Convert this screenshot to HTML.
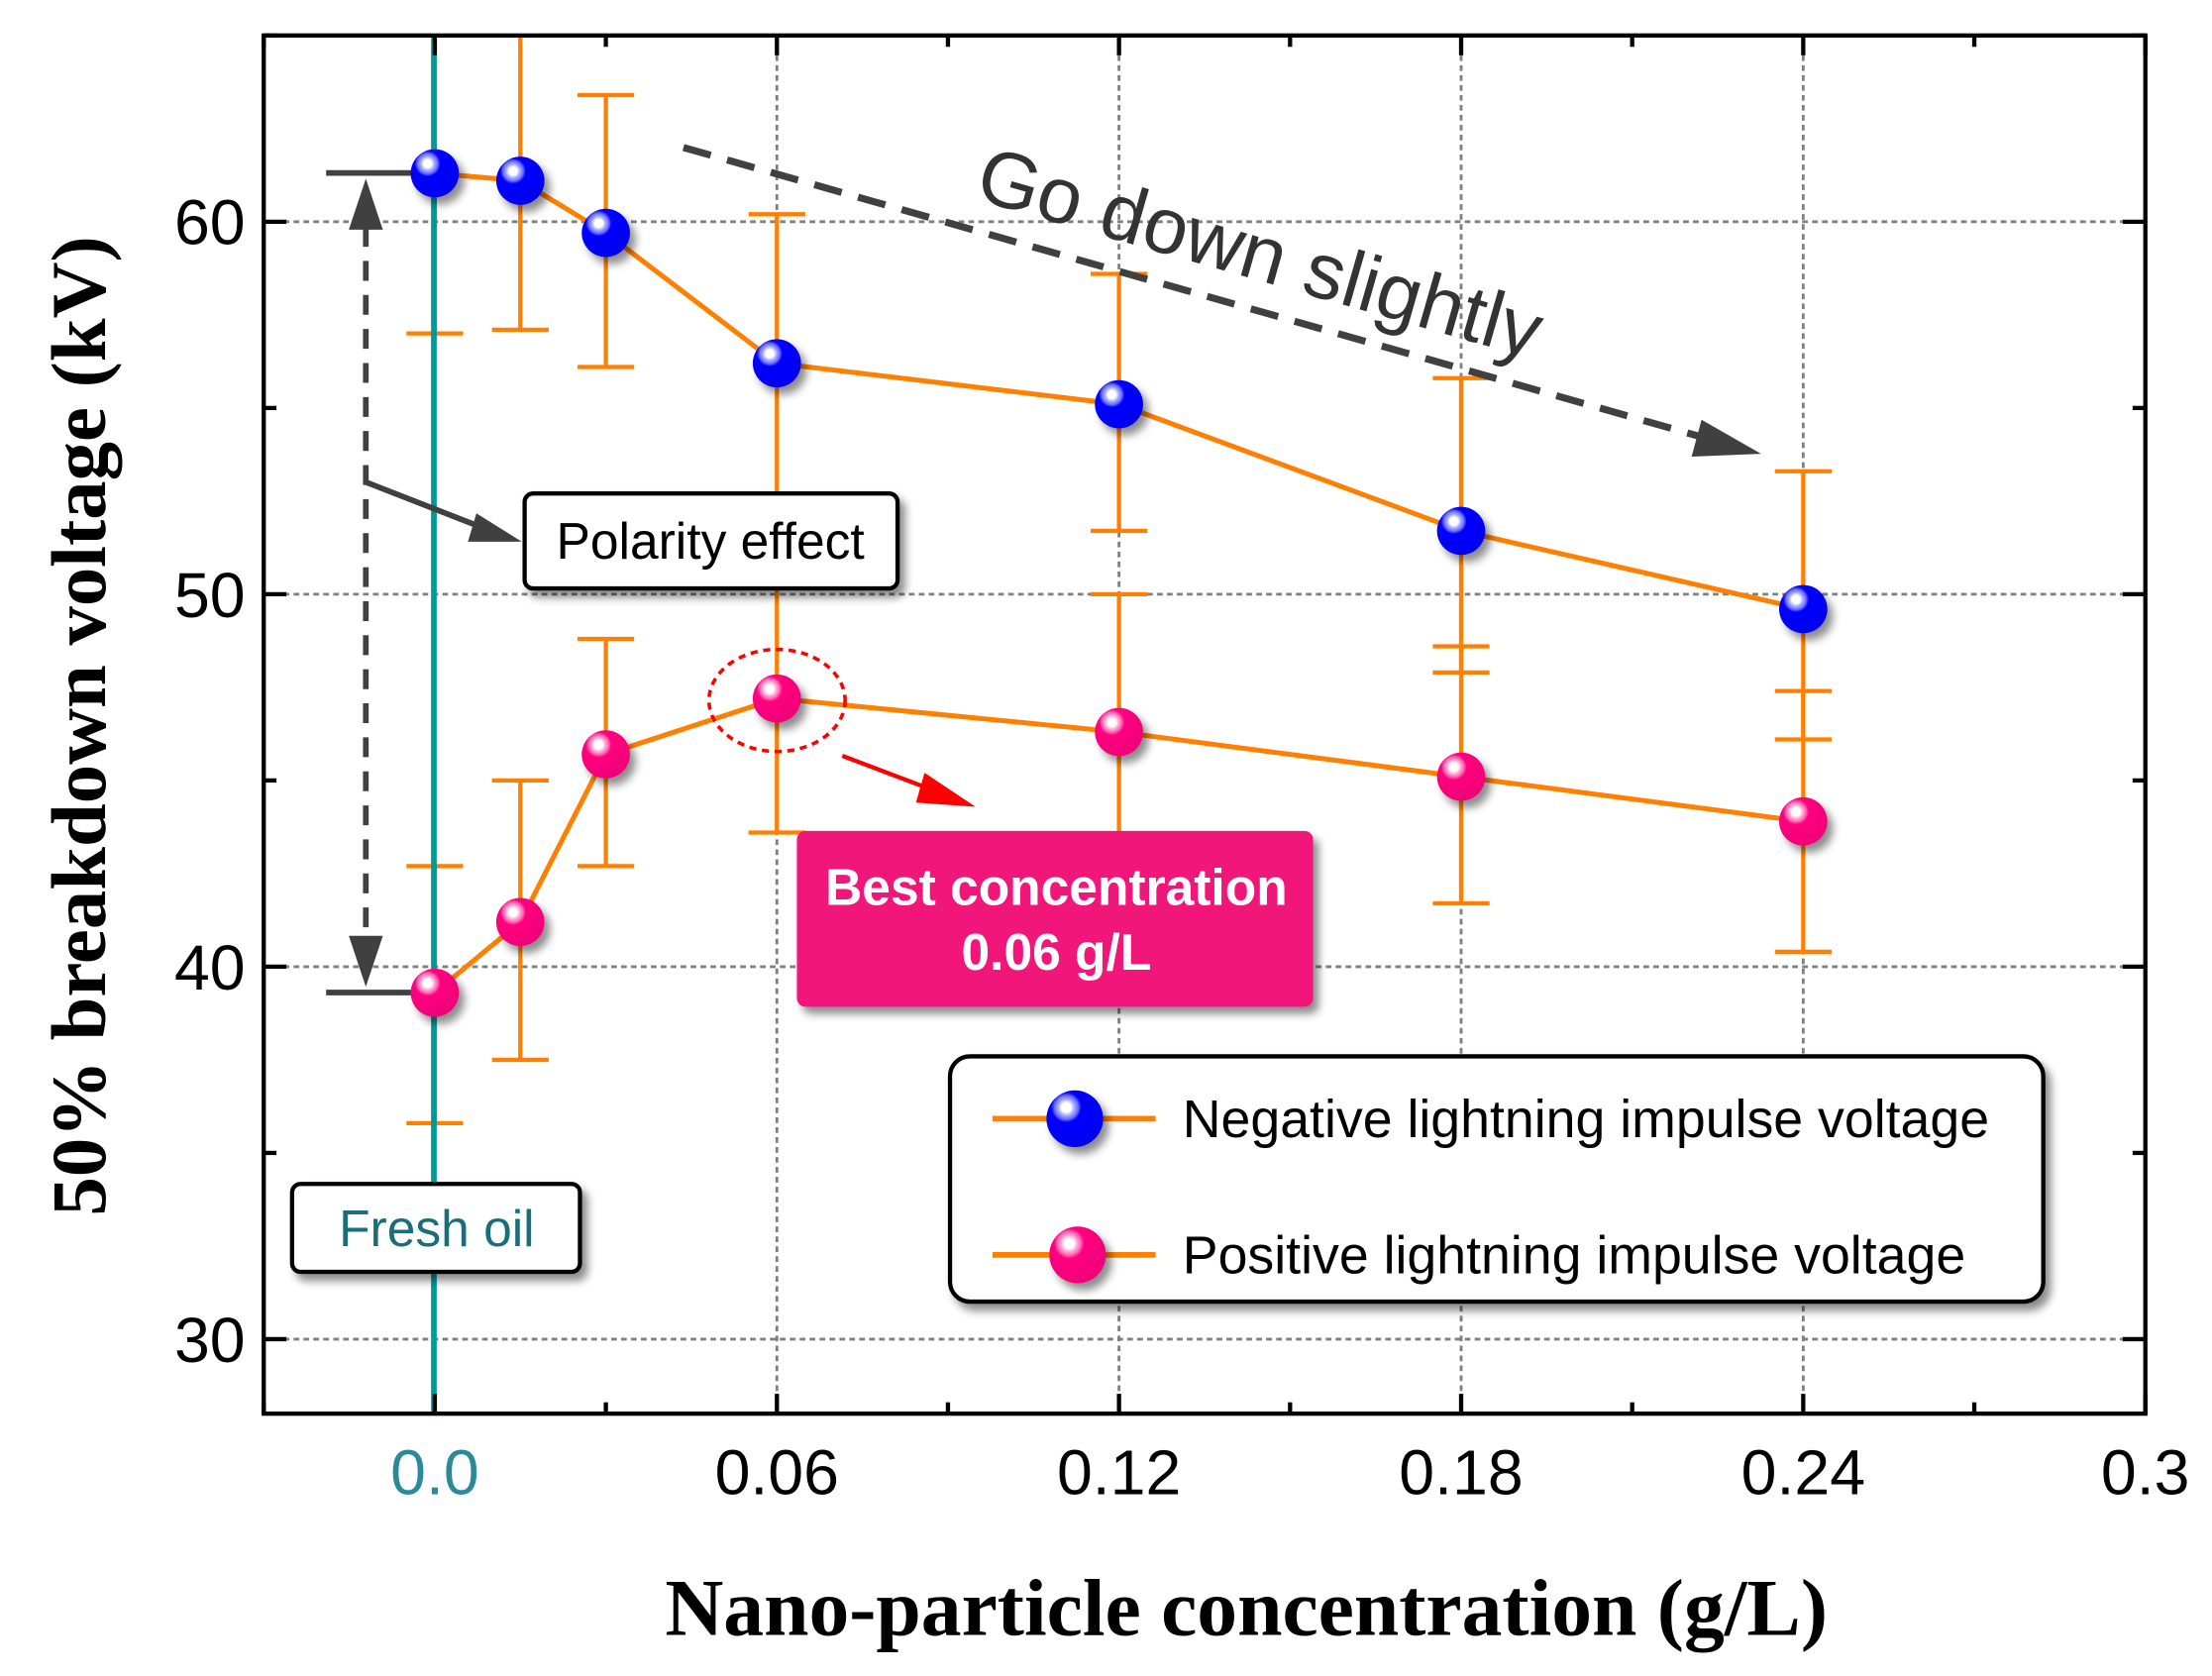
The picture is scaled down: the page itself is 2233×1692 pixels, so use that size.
<!DOCTYPE html>
<html><head><meta charset="utf-8"><style>html,body{margin:0;padding:0;background:#fff}svg{display:block}</style></head>
<body>
<svg id="chart" xmlns="http://www.w3.org/2000/svg" width="2233" height="1692" viewBox="0 0 1560 1182">
<defs>
<radialGradient id="gb" cx="0.35" cy="0.3" r="0.7"><stop offset="0" stop-color="#fff"/><stop offset="0.12" stop-color="#fff"/><stop offset="0.2" stop-color="#aab0ff"/><stop offset="0.3" stop-color="#6a6aff"/><stop offset="0.38" stop-color="#0000ff"/><stop offset="1" stop-color="#0000f0"/></radialGradient>
<radialGradient id="gp" cx="0.35" cy="0.3" r="0.7"><stop offset="0" stop-color="#fff"/><stop offset="0.12" stop-color="#fff"/><stop offset="0.2" stop-color="#ffb0d8"/><stop offset="0.3" stop-color="#ff60b0"/><stop offset="0.38" stop-color="#ff0080"/><stop offset="1" stop-color="#f00078"/></radialGradient>
<filter id="sh" x="-50%" y="-50%" width="200%" height="200%"><feDropShadow dx="4" dy="5" stdDeviation="3" flood-color="#000" flood-opacity="0.45"/></filter>
</defs>
<g id="grid"></g>
<g id="errs"></g>
<line x1="306" y1="25" x2="306" y2="997" stroke="#009999" stroke-width="4"/>
<g id="lines"></g>
<g id="axes"></g>
<g stroke="#404040" stroke-width="4" fill="none">
<line x1="230" y1="122" x2="300" y2="122"/><line x1="230" y1="700" x2="300" y2="700"/>
<line x1="258" y1="160" x2="258" y2="665" stroke-dasharray="14,10"/>
<path d="M258,126 L246,162 L270,162 z" fill="#404040" stroke="none"/>
<path d="M258,696 L246,660 L270,660 z" fill="#404040" stroke="none"/>
<line x1="258" y1="340" x2="340" y2="372"/>
<path d="M368,382 L336,362 L330,382 z" fill="#404040" stroke="none"/>
</g>
<rect x="370" y="348" width="263" height="67" rx="6" fill="#fff" stroke="#000" stroke-width="3" filter="url(#sh)"/>
<text x="501" y="394" text-anchor="middle" font-family="Liberation Sans, sans-serif" font-size="36">Polarity effect</text>
<rect x="206" y="835" width="203" height="62" rx="6" fill="#fff" stroke="#000" stroke-width="3" filter="url(#sh)"/>
<text x="308" y="879" text-anchor="middle" font-family="Liberation Sans, sans-serif" font-size="36" fill="#1a6e7a">Fresh oil</text>
<g>
<line x1="482" y1="104" x2="1210" y2="311" stroke="#404040" stroke-width="5" stroke-dasharray="20,12"/>
<path d="M1242,320 L1200,296 L1193,322 z" fill="#404040"/>
</g>
<text transform="translate(686,140) rotate(16)" font-family="Liberation Sans, sans-serif" font-size="56" fill="#333">Go down slightly</text>
<ellipse cx="548" cy="494" rx="48" ry="36" fill="none" stroke="#ff0000" stroke-width="2.5" stroke-dasharray="5,4"/>
<g><line x1="594" y1="533" x2="660" y2="558" stroke="#ff0000" stroke-width="3"/><path d="M688,569 L652,545 L646,566 z" fill="#ff0000"/></g>
<rect x="562" y="586" width="364" height="124" rx="6" fill="#f0157a" filter="url(#sh)"/>
<text x="745" y="638" text-anchor="middle" font-family="Liberation Sans, sans-serif" font-size="36" font-weight="bold" fill="#fff">Best concentration</text>
<text x="745" y="684" text-anchor="middle" font-family="Liberation Sans, sans-serif" font-size="36" font-weight="bold" fill="#fff">0.06 g/L</text>
<g id="marks"></g>
<g>
<rect x="670" y="745" width="771" height="173" rx="14" fill="#fff" stroke="#000" stroke-width="3" filter="url(#sh)"/>
<g>
<line x1="700" y1="789" x2="815" y2="789" stroke="#ff8000" stroke-width="4"/>
<circle cx="758" cy="789" r="20" fill="url(#gb)" filter="url(#sh)"/>
<text x="834" y="802" font-family="Liberation Sans, sans-serif" font-size="37.5">Negative lightning impulse voltage</text></g>
<g>
<line x1="700" y1="885" x2="815" y2="885" stroke="#ff8000" stroke-width="4"/>
<circle cx="760" cy="885" r="20" fill="url(#gp)" filter="url(#sh)"/>
<text x="834" y="898" font-family="Liberation Sans, sans-serif" font-size="37.5">Positive lightning impulse voltage</text></g>
</g>
<text transform="translate(74,512) rotate(-90)" text-anchor="middle" font-family="Liberation Serif, serif" font-size="55" font-weight="bold">50% breakdown voltage (kV)</text>
<text x="879" y="1153" text-anchor="middle" font-family="Liberation Serif, serif" font-size="57" font-weight="bold">Nano-particle concentration (g/L)</text>
</svg>
<script>
const xs=[0,0.015,0.03,0.06,0.12,0.18,0.24];
const negV=[61.3,61.1,59.7,56.2,55.1,51.7,49.6];
const negHi=[65.6,65.2,63.4,60.2,58.6,55.8,53.3];
const negLo=[57.0,57.1,56.1,52.2,51.7,47.9,46.1];
const posV=[39.3,41.2,45.7,47.2,46.3,45.1,43.9];
const posHi=[42.7,45.0,48.8,51.0,50.0,48.6,47.4];
const posLo=[35.8,37.5,42.7,43.6,42.6,41.7,40.4];
const xTicks=[0,0.06,0.12,0.18,0.24,0.3];
const xTickLabels=["0.0","0.06","0.12","0.18","0.24","0.3"];
const yTicks=[30,40,50,60];
const L=186,R=1513,T=25,B=997,X0=-0.03,X1=0.3,Y0=28,Y1=65;
function sx(v){return L+(v-X0)/(X1-X0)*(R-L);}
function sy(v){return B-(v-Y0)/(Y1-Y0)*(B-T);}
const NS="http://www.w3.org/2000/svg";
function mk(p,t,a){const e=document.createElementNS(NS,t);for(const k in a)e.setAttribute(k,a[k]);p.appendChild(e);return e;}
const grid=document.getElementById('grid'),axes=document.getElementById('axes'),errs=document.getElementById('errs'),lines=document.getElementById('lines'),marks=document.getElementById('marks');
xTicks.forEach((v,i)=>{if(v>0&&v<0.3){const g=mk(grid,'line',{x1:sx(v),x2:sx(v),y1:T,y2:B,stroke:'#808080','stroke-width':2,'stroke-dasharray':'4,3'});

}
const t=mk(axes,'text',{x:sx(v),y:1054,'text-anchor':'middle','font-family':'Liberation Sans, sans-serif','font-size':45,fill:v===0?'#2a8a9a':'#000'});t.textContent=xTickLabels[i];

});
yTicks.forEach(v=>{const g=mk(grid,'line',{x1:L,x2:R,y1:sy(v),y2:sy(v),stroke:'#808080','stroke-width':2,'stroke-dasharray':'4,3'});


const t=mk(axes,'text',{x:173,y:sy(v)+16,'text-anchor':'end','font-family':'Liberation Sans, sans-serif','font-size':45});t.textContent=v;

});
mk(axes,'rect',{x:L,y:T,width:R-L,height:B-T,fill:'none',stroke:'#000','stroke-width':3});
for(let k=0;k<=11;k++){const v=-0.03+k*0.03,X=sx(v),len=(k%2===1)?14:8;
mk(axes,'line',{x1:X,x2:X,y1:B,y2:B-len,stroke:'#000','stroke-width':3});mk(axes,'line',{x1:X,x2:X,y1:T,y2:T+len,stroke:'#000','stroke-width':3});}
for(let v=30;v<=65;v+=5){const Y=sy(v),len=v%10===0?16:9;
mk(axes,'line',{x1:L,x2:L+len,y1:Y,y2:Y,stroke:'#000','stroke-width':3});mk(axes,'line',{x1:R,x2:R-len,y1:Y,y2:Y,stroke:'#000','stroke-width':3});}
function series(vals,hi,lo,grad,name){
xs.forEach((x,i)=>{const X=sx(x),y1=Math.max(sy(hi[i]),T),y2=sy(lo[i]);
const e=mk(errs,'path',{d:'M'+X+','+y1+'V'+y2+(hi[i]<Y1?'M'+(X-20)+','+sy(hi[i])+'h40':'')+'M'+(X-20)+','+y2+'h40',stroke:'#ff8000','stroke-width':3,fill:'none'});

});
const p=mk(lines,'polyline',{points:xs.map((x,i)=>sx(x)+','+sy(vals[i])).join(' '),fill:'none',stroke:'#ff8000','stroke-width':3.5});


xs.forEach((x,i)=>{const c=mk(marks,'circle',{cx:sx(x),cy:sy(vals[i]),r:17,fill:'url(#'+grad+')',filter:'url(#sh)'});

});}
series(negV,negHi,negLo,'gb','negative');
series(posV,posHi,posLo,'gp','positive');
</script>
</body></html>
